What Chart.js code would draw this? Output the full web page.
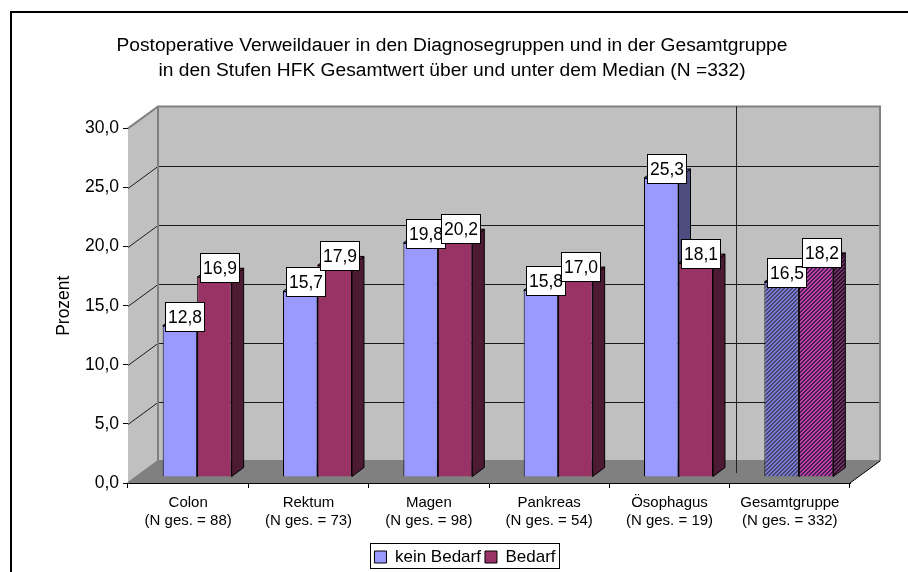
<!DOCTYPE html>
<html>
<head>
<meta charset="utf-8">
<style>html,body{margin:0;padding:0;background:#fff;overflow:hidden}canvas{display:block}</style>
<script src="https://cdn.jsdelivr.net/npm/chart.js@4/dist/chart.umd.min.js"></script>
</head>
<body>
<canvas id="c" width="908" height="572"></canvas>
<script>
const groupNames = ['Colon','Rektum','Magen','Pankreas','Ösophagus','Gesamtgruppe'];
const groupSizes = ['(N ges. = 88)','(N ges. = 73)','(N ges. = 98)','(N ges. = 54)','(N ges. = 19)','(N ges. = 332)'];
const keinBedarf = [12.8,15.7,19.8,15.8,25.3,16.5];
const bedarf = [16.9,17.9,20.2,17.0,18.1,18.2];
const titleLines = ['Postoperative Verweildauer in den Diagnosegruppen und in der Gesamtgruppe','in den Stufen HFK Gesamtwert über und unter dem Median (N =332)'];

const FONT = '"Liberation Sans", Arial, sans-serif';
const fmt = v => v.toFixed(1).replace('.', ',');
const WALL = {dx: 30, dy: -22};
const BAR = {dx: 9, dy: -6, sideX: 12, sideY: -9};

function hatch(bg, fg) {
  const p = document.createElement('canvas'); p.width = p.height = 4;
  const c = p.getContext('2d');
  c.fillStyle = bg; c.fillRect(0,0,4,4);
  c.fillStyle = fg;
  for (let x = 0; x < 4; x++) for (let y = 0; y < 4; y++) if ((x + y) % 4 < 2) c.fillRect(x, y, 1, 1);
  return c.createPattern(p, 'repeat');
}
const ctx0 = document.getElementById('c').getContext('2d');
const styles = [
  {front:'#9999FF', side:'#4D4D80', top:'#7A7ACC', hFront:hatch('#7C7CD8','#45456A'), hSide:hatch('#4D4D80','#22223A')},
  {front:'#993366', side:'#4D1A33', top:'#7A2952', hFront:hatch('#C040B0','#45204A'), hSide:hatch('#70306A','#2A1024')}
];
const lastIndex = groupNames.length - 1;

function drawSides(chart, di) {
  const ctx = chart.ctx, st = styles[di];
  chart.getDatasetMeta(di).data.forEach((b, i) => {
    const p = b.getProps(['x','y','base','width'], true);
    const r = p.x + p.width/2, l = p.x - p.width/2;
    ctx.lineWidth = 1; ctx.strokeStyle = '#000';
    ctx.fillStyle = i === lastIndex ? st.hSide : st.side;
    ctx.beginPath();
    ctx.moveTo(r,p.base); ctx.lineTo(r+BAR.sideX,p.base+BAR.sideY); ctx.lineTo(r+BAR.sideX,p.y+BAR.sideY); ctx.lineTo(r,p.y); ctx.closePath();
    ctx.fill(); ctx.stroke();
    ctx.fillStyle = i === lastIndex ? st.hSide : st.top;
    ctx.beginPath();
    ctx.moveTo(l,p.y); ctx.lineTo(l+BAR.sideX,p.y+BAR.sideY); ctx.lineTo(r+BAR.sideX,p.y+BAR.sideY); ctx.lineTo(r,p.y); ctx.closePath();
    ctx.fill(); ctx.stroke();
  });
}

const scene = {
  id: 'scene',
  afterLayout(chart) {
    const lg = chart.legend;
    lg.left = 340; lg.right = 590; lg.top = 544.5; lg.bottom = 544.5 + lg.height;
    lg.width = 250;
  },
  beforeDraw(chart) {
    const ctx = chart.ctx;
    ctx.save();
    ctx.fillStyle = '#fff'; ctx.fillRect(0,0,chart.width,chart.height);
    ctx.fillStyle = '#000';
    ctx.fillRect(10,11,898,2);
    ctx.fillRect(10,11,2,561);
    ctx.lineWidth = 1; ctx.strokeStyle = '#000';
    ctx.strokeRect(370.5,543.5,189,25);
    ctx.restore();
  },
  beforeDatasetsDraw(chart) {
    const ctx = chart.ctx, a = chart.chartArea, y = chart.scales.y, x = chart.scales.x;
    const L = a.left, R = a.right, T = a.top, B = a.bottom, dx = WALL.dx, dy = WALL.dy;
    ctx.save();
    ctx.fillStyle = '#C0C0C0';
    ctx.fillRect(L+dx, T+dy, R-L, B-T);
    ctx.beginPath(); ctx.moveTo(L,T); ctx.lineTo(L+dx,T+dy); ctx.lineTo(L+dx,B+dy); ctx.lineTo(L,B); ctx.closePath(); ctx.fill();
    ctx.fillStyle = '#808080';
    ctx.beginPath(); ctx.moveTo(L,B); ctx.lineTo(R,B); ctx.lineTo(R+dx,B+dy); ctx.lineTo(L+dx,B+dy); ctx.closePath(); ctx.fill();
    ctx.lineWidth = 1; ctx.strokeStyle = '#1a1a1a';
    y.ticks.forEach(t => {
      if (t.value === 0 || t.value === y.max) return;
      const py = Math.round(y.getPixelForValue(t.value)) + 0.5;
      ctx.beginPath(); ctx.moveTo(L,py); ctx.lineTo(L+dx,py+dy); ctx.lineTo(R+dx,py+dy); ctx.stroke();
    });
    ctx.strokeStyle = '#808080'; ctx.lineWidth = 2;
    ctx.beginPath(); ctx.moveTo(L,T); ctx.lineTo(L+dx,T+dy); ctx.lineTo(R+dx,T+dy); ctx.lineTo(R+dx,B+dy);
    ctx.moveTo(L+dx,T+dy); ctx.lineTo(L+dx,B+dy); ctx.lineTo(L,B); ctx.moveTo(L+dx,B+dy); ctx.lineTo(R+dx,B+dy); ctx.stroke();
    ctx.strokeStyle = '#000'; ctx.lineWidth = 1;
    ctx.beginPath(); ctx.moveTo(R,B); ctx.lineTo(R+dx,B+dy); ctx.stroke();
    const sep = (x.getPixelForValue(lastIndex-1) + x.getPixelForValue(lastIndex))/2 + 6;
    ctx.strokeStyle = '#222';
    ctx.beginPath(); ctx.moveTo(Math.round(sep)+0.5,T+dy); ctx.lineTo(Math.round(sep)+0.5,B-10); ctx.stroke();
    ctx.translate(BAR.dx, BAR.dy);
    drawSides(chart, 0);
    ctx.restore();
  },
  beforeDatasetDraw(chart, args) {
    const ctx = chart.ctx;
    ctx.save();
    ctx.translate(BAR.dx, BAR.dy);
    if (args.index === 1) drawSides(chart, 1);
  },
  afterDatasetDraw(chart) { chart.ctx.restore(); },
  afterDatasetsDraw(chart) {
    const ctx = chart.ctx;
    ctx.save();
    ctx.translate(BAR.dx, BAR.dy);
    ctx.font = '17.5px ' + FONT;
    ctx.textAlign = 'center'; ctx.textBaseline = 'middle';
    chart.data.datasets.forEach((ds, di) => {
      chart.getDatasetMeta(di).data.forEach((b, i) => {
        const cx = Math.round(b.x + 5.5), cy = Math.round(b.y - 9);
        ctx.fillStyle = '#fff'; ctx.strokeStyle = '#000'; ctx.lineWidth = 1;
        ctx.fillRect(cx-20, cy-14, 40, 29);
        ctx.strokeRect(cx-19.5, cy-14.5, 39, 29);
        ctx.fillStyle = '#000';
        ctx.fillText(fmt(ds.data[i]), cx, cy + 1);
      });
    });
    ctx.restore();
  }
};

new Chart(ctx0, {
  type: 'bar',
  plugins: [scene],
  data: {
    labels: groupNames.map((n, i) => [n, groupSizes[i]]),
    datasets: [
      {label:'kein Bedarf', data: keinBedarf, clip:false,
       backgroundColor: c => c.dataIndex === lastIndex ? styles[0].hFront : styles[0].front,
       borderColor:'#000', borderWidth:1},
      {label:'Bedarf', data: bedarf, clip:false,
       backgroundColor: c => c.dataIndex === lastIndex ? styles[1].hFront : styles[1].front,
       borderColor:'#000', borderWidth:1}
    ]
  },
  options: {
    responsive:false, animation:false,
    categoryPercentage:0.573, barPercentage:1,
    layout:{padding:{left:54, right:58, top:0, bottom:0}},
    plugins:{
      title:{display:true, text:titleLines, color:'#000', font:{family:FONT, size:19.2, weight:'normal', lineHeight:1.3}, padding:{top:33.5, bottom:45}},
      legend:{display:true, position:'bottom',
        labels:{boxWidth:12, boxHeight:12, color:'#000', font:{family:FONT,size:17}, padding:4}},
      tooltip:{enabled:false}
    },
    scales:{
      x:{
        grid:{display:true, drawOnChartArea:false, drawTicks:true, tickLength:5, color:'#000', offset:true},
        border:{display:true, color:'#000', width:1},
        ticks:{color:'#000', font:{family:FONT,size:15,lineHeight:1.2}, autoSkip:false, maxRotation:0, minRotation:0, padding:6},
        afterFit(s){ s.height = 572 - 483 - (s.chart.legend ? s.chart.legend.height : 0); }
      },
      y:{
        min:0, max:30,
        grid:{display:true, drawOnChartArea:false, drawTicks:true, tickLength:5, color:'#000'},
        border:{display:true, color:'#000', width:1},
        ticks:{stepSize:5, color:'#000', font:{family:FONT,size:17.5}, padding:4, callback:v => fmt(v)},
        title:{display:true, text:'Prozent', color:'#000', font:{family:FONT,size:17.5,weight:'normal'}, padding:{top:0,bottom:0}},
        afterFit(s){ s.width = 74; }
      }
    }
  }
});
</script>
</body>
</html>
